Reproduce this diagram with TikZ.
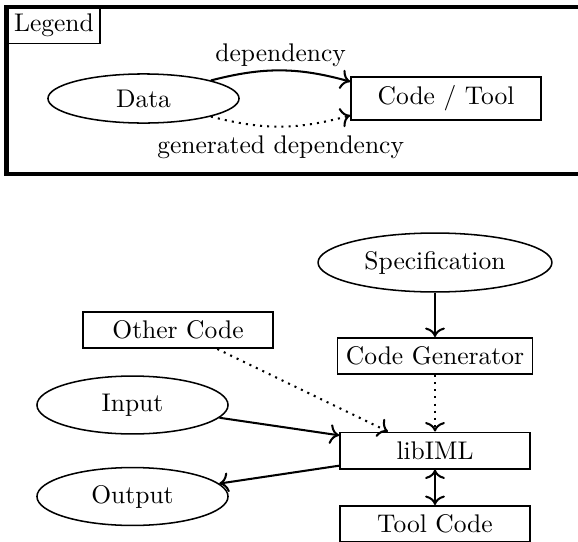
\documentclass[tikz,border=0pt]{standalone}
\usetikzlibrary{shapes.geometric,arrows.meta}
\begin{document}
\begin{tikzpicture}[x=0.392pt,y=-0.392pt,
  >={To[scale=1.1]},
  box/.style={draw,semithick,rectangle,minimum width=74.5pt,minimum height=14.3pt,inner sep=3.33pt},
  oval/.style={draw,semithick,ellipse,minimum width=74.9pt,minimum height=22.7pt},
  arr/.style={->,thick},
  garr/.style={->,thick,dotted}]
\useasboundingbox (0,0) rectangle (578,542);
% legend
\draw[line width=1.6pt] (6.5,7) rectangle (600,174);
\node[draw,semithick,anchor=north west,inner sep=2.5pt] (legend) at (7,7) {Legend};
\node[oval,minimum height=18.4pt] (data) at (143.5,98.5) {Data};
\node[box,minimum height=15.3pt] (tool) at (446,98.5) {Code / Tool};
\draw[arr] (data.15) to[bend left=15] node[midway,above,inner sep=1pt] {dependency} (tool.170);
\draw[garr] (data.-15) to[bend right=15] node[midway,below] {generated dependency} (tool.190);
% main
\node[oval,minimum width=91.7pt,minimum height=23.1pt] (spec) at (435,262.5) {Specification};
\node[box,minimum width=0pt] (gen) at (435,356) {Code Generator};
\node[box] (other) at (178,330) {Other Code};
\node[oval] (input) at (132.5,405) {Input};
\node[box] (lib) at (435,450.5) {libIML};
\node[oval] (output) at (132.5,496.5) {Output};
\node[box] (toolc) at (435,524) {Tool Code};
\draw[arr] (spec) -- (gen);
\draw[garr] (gen) -- (lib);
\draw[garr] (other) -- (lib.158);
\draw[arr] (input) -- (lib.171);
\draw[arr] (lib.189) -- (output);
\draw[<->,thick] (lib) -- (toolc);
\end{tikzpicture}
\end{document}
